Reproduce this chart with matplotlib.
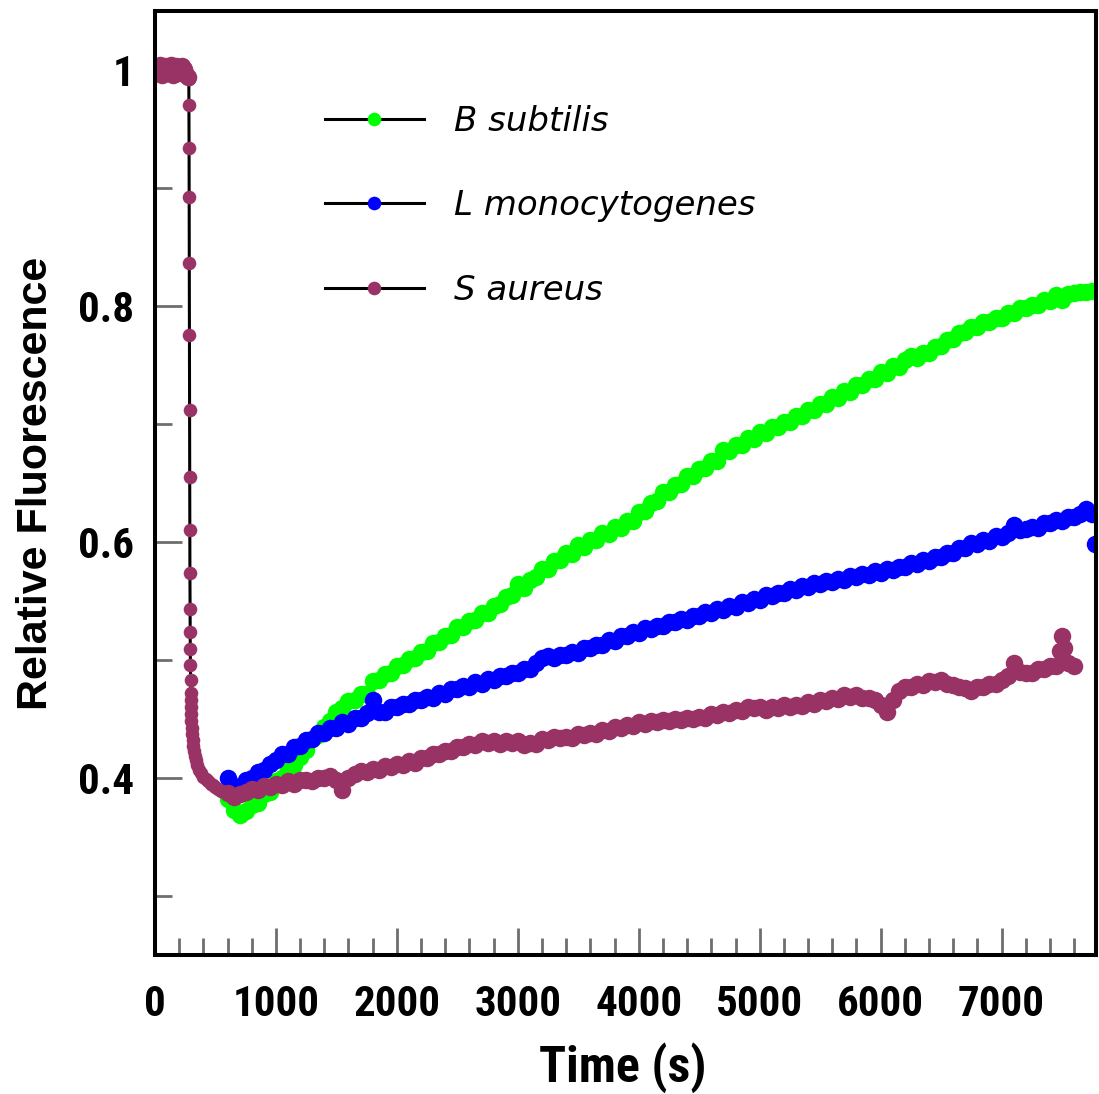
import numpy as np
import matplotlib
matplotlib.use("Agg")
import matplotlib.pyplot as plt
from matplotlib.ticker import MultipleLocator, FixedLocator

# ---- time grids (s) ----
t_growth = np.arange(600, 7751, 50)          # B subtilis / L monocytogenes readings
t_sa_main = np.arange(600, 7601, 50)         # S aureus readings after the drop
t_sa_pre = np.arange(0, 271, 10)             # baseline before addition
t_sa_drop = np.arange(280, 296, 1)           # rapid quench
t_sa_tail = [296, 298, 300, 302, 305, 308, 312, 317, 323, 330, 340, 350,
             365, 380, 400, 420, 440, 460, 480, 500, 525, 550, 575]
t_sa_extra = [7485, 7515]

# ---- relative fluorescence ----
b_subtilis = [
    0.382, 0.373, 0.369, 0.372, 0.377, 0.379, 0.386, 0.388, 0.397, 0.400,
    0.408, 0.411, 0.418, 0.424, 0.433, 0.436, 0.443, 0.448, 0.456, 0.459,
    0.465, 0.466, 0.471, 0.471, 0.482, 0.483, 0.488, 0.489, 0.495, 0.496,
    0.501, 0.502, 0.507, 0.508, 0.514, 0.515, 0.520, 0.521, 0.528, 0.528,
    0.533, 0.534, 0.540, 0.540, 0.546, 0.547, 0.553, 0.555, 0.564, 0.561,
    0.568, 0.570, 0.577, 0.577, 0.584, 0.585, 0.591, 0.590, 0.597, 0.596,
    0.602, 0.602, 0.608, 0.607, 0.613, 0.612, 0.618, 0.618, 0.625, 0.626,
    0.633, 0.635, 0.642, 0.642, 0.648, 0.649, 0.656, 0.656, 0.662, 0.663,
    0.669, 0.669, 0.678, 0.677, 0.682, 0.682, 0.688, 0.687, 0.693, 0.692,
    0.697, 0.697, 0.702, 0.702, 0.707, 0.707, 0.712, 0.712, 0.717, 0.717,
    0.723, 0.722, 0.728, 0.727, 0.733, 0.733, 0.738, 0.738, 0.744, 0.743,
    0.749, 0.748, 0.754, 0.758, 0.756, 0.760, 0.760, 0.765, 0.766, 0.771,
    0.772, 0.777, 0.778, 0.782, 0.782, 0.786, 0.786, 0.790, 0.790, 0.794,
    0.794, 0.798, 0.798, 0.801, 0.801, 0.805, 0.804, 0.809, 0.805, 0.810,
    0.811, 0.812, 0.812, 0.813,
]

l_monocytogenes = [
    0.400, 0.390, 0.393, 0.398, 0.400, 0.405, 0.407, 0.412, 0.415, 0.420,
    0.420, 0.426, 0.427, 0.432, 0.433, 0.438, 0.438, 0.442, 0.442, 0.447,
    0.446, 0.451, 0.451, 0.455, 0.466, 0.456, 0.456, 0.460, 0.460, 0.463,
    0.463, 0.466, 0.466, 0.469, 0.468, 0.472, 0.471, 0.475, 0.475, 0.478,
    0.477, 0.481, 0.480, 0.484, 0.483, 0.486, 0.486, 0.489, 0.489, 0.492,
    0.492, 0.497, 0.502, 0.503, 0.502, 0.504, 0.504, 0.507, 0.506, 0.510,
    0.510, 0.513, 0.513, 0.517, 0.516, 0.520, 0.520, 0.524, 0.523, 0.527,
    0.526, 0.529, 0.529, 0.532, 0.532, 0.535, 0.534, 0.537, 0.537, 0.541,
    0.540, 0.543, 0.542, 0.546, 0.545, 0.549, 0.548, 0.552, 0.551, 0.555,
    0.554, 0.557, 0.557, 0.560, 0.559, 0.563, 0.562, 0.565, 0.564, 0.567,
    0.566, 0.569, 0.568, 0.571, 0.570, 0.573, 0.572, 0.575, 0.574, 0.577,
    0.576, 0.579, 0.579, 0.582, 0.581, 0.585, 0.584, 0.587, 0.587, 0.591,
    0.591, 0.595, 0.595, 0.599, 0.598, 0.602, 0.601, 0.605, 0.604, 0.608,
    0.614, 0.610, 0.611, 0.613, 0.612, 0.616, 0.616, 0.619, 0.618, 0.621,
    0.621, 0.624, 0.628, 0.624,
]
t_lm_last = [7772]
lm_last = [0.598]

s_aureus_pre = [
    1.002, 1.000, 0.997, 1.002, 1.004, 0.999, 0.996, 1.000, 1.003, 0.998,
    1.002, 0.998, 1.000, 1.004, 0.997, 0.996, 1.001, 1.003, 0.998, 0.997,
    1.002, 0.999, 1.003, 0.997, 1.001, 0.997, 0.996, 0.994,
]
s_aureus_drop = [
    0.992, 0.970, 0.934, 0.892, 0.836, 0.775, 0.712, 0.655,
    0.610, 0.574, 0.543, 0.524, 0.509, 0.496, 0.483, 0.472,
]
s_aureus_tail = [
    0.466, 0.460, 0.454, 0.448, 0.442, 0.437, 0.432, 0.427, 0.423, 0.419,
    0.415, 0.411, 0.407, 0.404, 0.401, 0.399, 0.397, 0.395, 0.394, 0.392,
    0.391, 0.389, 0.388,
]
s_aureus_main = [
    0.387, 0.384, 0.386, 0.388, 0.391, 0.390, 0.393, 0.392, 0.395, 0.394,
    0.397, 0.395, 0.398, 0.398, 0.397, 0.400, 0.400, 0.402, 0.398, 0.390,
    0.400, 0.403, 0.406, 0.405, 0.408, 0.407, 0.410, 0.409, 0.412, 0.411,
    0.414, 0.413, 0.417, 0.417, 0.420, 0.420, 0.423, 0.423, 0.426, 0.426,
    0.429, 0.428, 0.431, 0.430, 0.431, 0.429, 0.431, 0.430, 0.431, 0.428,
    0.430, 0.429, 0.433, 0.432, 0.435, 0.434, 0.435, 0.434, 0.437, 0.436,
    0.438, 0.437, 0.441, 0.440, 0.443, 0.442, 0.445, 0.444, 0.447, 0.446,
    0.448, 0.447, 0.449, 0.448, 0.450, 0.449, 0.451, 0.450, 0.452, 0.451,
    0.454, 0.453, 0.456, 0.455, 0.458, 0.457, 0.460, 0.459, 0.460, 0.458,
    0.460, 0.459, 0.462, 0.460, 0.462, 0.461, 0.464, 0.463, 0.466, 0.465,
    0.468, 0.467, 0.470, 0.469, 0.470, 0.468, 0.468, 0.466, 0.462, 0.456,
    0.466, 0.474, 0.477, 0.477, 0.480, 0.479, 0.482, 0.481, 0.483, 0.480,
    0.479, 0.477, 0.476, 0.474, 0.477, 0.477, 0.480, 0.480, 0.483, 0.486,
    0.497, 0.490, 0.489, 0.489, 0.492, 0.492, 0.495, 0.495, 0.520, 0.497,
    0.495,
]
s_aureus_extra = [0.508, 0.510]

labels = ["B subtilis", "L monocytogenes", "S aureus"]
colors = ["#00ff00", "#0000ff", "#993366"]

x_major = [0, 1000, 2000, 3000, 4000, 5000, 6000, 7000]
y_major = [0.4, 0.6, 0.8, 1.0]
y_major_labels = ["0.4", "0.6", "0.8", "1"]
y_minor = [0.3, 0.5, 0.7, 0.9]

# ---- assemble series ----
def by_time(ts, ys):
    t = np.concatenate(ts)
    y = np.concatenate(ys)
    o = np.argsort(t, kind="stable")
    return t[o], y[o]

t_sa, sa = by_time([t_sa_pre, t_sa_drop, t_sa_tail, t_sa_main, t_sa_extra],
                   [s_aureus_pre, s_aureus_drop, s_aureus_tail, s_aureus_main,
                    s_aureus_extra])
t_sa_band, sa_band = by_time([t_sa_pre, t_sa_main, t_sa_extra],
                             [s_aureus_pre, s_aureus_main, s_aureus_extra])
t_lm_all, lm_all = by_time([t_growth, t_lm_last], [l_monocytogenes, lm_last])

narrow = ["Roboto Condensed", "Liberation Sans", "DejaVu Sans"]

fig = plt.figure(figsize=(10.99, 10.94), dpi=100)
ax = fig.add_axes([0.1410, 0.1271, 0.8562, 0.8629])

ms_point, ms_band = 9.8, 12.6
series = [
    (t_growth, b_subtilis, t_growth, b_subtilis),
    (t_growth, l_monocytogenes, t_lm_all, lm_all),
    (t_sa, sa, t_sa_band, sa_band),
]
for (t, y, tb, yb), lab, c in zip(series, labels, colors):
    # connected trace
    ax.plot(t, y, color="black", lw=2.2, marker="o", ms=ms_point, mew=0,
            markerfacecolor=c, label=lab)
    # dense plateau readings overlap into a band
    ax.plot(tb, yb, ls="none", marker="o", ms=ms_band, mew=0, markerfacecolor=c)

ax.set_xlim(0, 7780)
ax.set_ylim(0.25, 1.05)

ax.xaxis.set_major_locator(FixedLocator(x_major))
ax.xaxis.set_minor_locator(MultipleLocator(200))
ax.yaxis.set_major_locator(FixedLocator(y_major))
ax.yaxis.set_minor_locator(FixedLocator(y_minor))
ax.set_yticklabels(y_major_labels)

ax.tick_params(which="both", direction="in", color="#6e6e6e", width=2.0,
               top=False, right=False)
ax.tick_params(which="major", length=19.5)
ax.tick_params(which="minor", length=12.2)
ax.tick_params(axis="x", pad=21)
ax.tick_params(axis="y", pad=15)

for lbl in ax.get_xticklabels() + ax.get_yticklabels():
    lbl.set_fontfamily(narrow)
    lbl.set_fontweight("bold")
    lbl.set_fontsize(31)

for sp in ax.spines.values():
    sp.set_linewidth(2.9)
    sp.set_color("black")

ax.set_xlabel("Time (s)", fontfamily=narrow, fontweight="bold", fontsize=36)
ax.set_ylabel("Relative Fluorescence", fontfamily=["Liberation Sans", "DejaVu Sans"],
              fontweight="bold", fontsize=31)
ax.xaxis.set_label_coords(0.497, -0.093)
ax.yaxis.set_label_coords(-0.105, 0.5)

ax.legend(loc="upper left", bbox_to_anchor=(0.1807, 0.9007), frameon=False,
          prop=dict(family="DejaVu Sans", style="italic", size=24.5),
          handlelength=2.9, handletextpad=0.88, labelspacing=1.52,
          borderpad=0, borderaxespad=0, numpoints=1)

fig.savefig("out.png", dpi=100)
